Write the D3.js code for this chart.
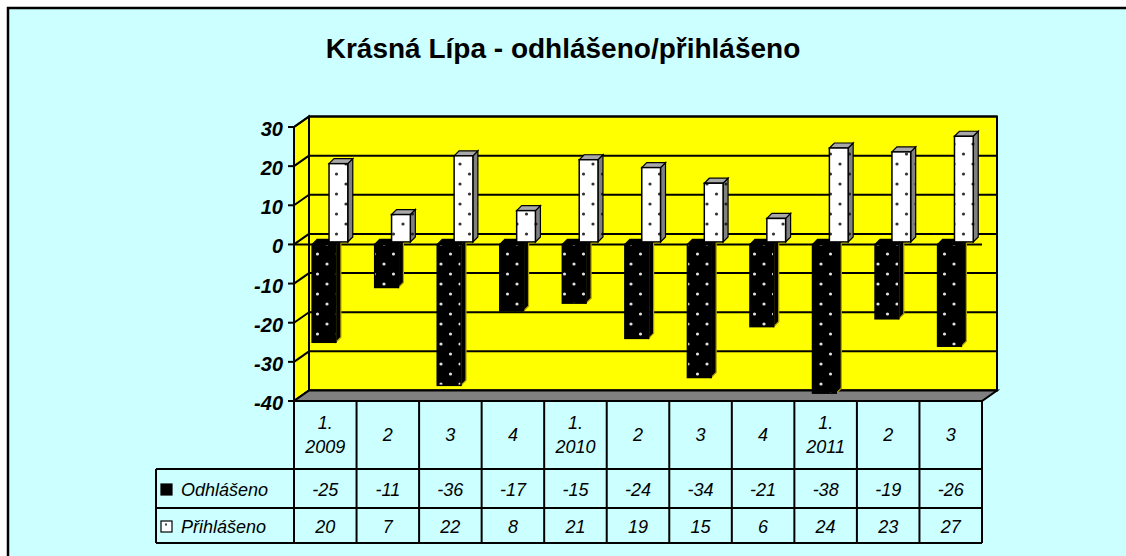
<!DOCTYPE html>
<html>
<head>
<meta charset="utf-8">
<script src="https://cdn.jsdelivr.net/npm/d3@7"></script>
<style>
  html, body { margin: 0; padding: 0; background: #fff; overflow: hidden; }
  svg { display: block; }
  text { font-family: Arial, "Liberation Sans", sans-serif; }
</style>
</head>
<body>
<svg width="1126" height="556"></svg>
<script>
// data
const categories = [["1.", "2009"], ["2"], ["3"], ["4"], ["1.", "2010"], ["2"], ["3"], ["4"], ["1.", "2011"], ["2"], ["3"]];
const odhlaseno = [-25, -11, -36, -17, -15, -24, -34, -21, -38, -19, -26];
const prihlaseno = [20, 7, 22, 8, 21, 19, 15, 6, 24, 23, 27];
const yTicks = [30, 20, 10, 0, -10, -20, -30, -40];
const seriesNames = ["Odhlášeno", "Přihlášeno"];
const title = "Krásná Lípa - odhlášeno/přihlášeno";

const svg = d3.select("svg");

// depth of the 3d box
const DX = 15, DY = -10.5;
// depth of each bar
const bdx = 5, bdy = -5;

const x = d3.scaleBand().domain(d3.range(categories.length)).range([294, 982]);
const y = d3.scaleLinear().domain([-40, 30]).range([401, 127]);

// patterns
const defs = svg.append("defs");
function dots(id, bg, fg) {
  const p = defs.append("pattern")
    .attr("id", id)
    .attr("patternUnits", "userSpaceOnUse")
    .attr("width", 19).attr("height", 20);
  p.append("rect").attr("width", 19).attr("height", 20).attr("fill", bg);
  p.append("circle").attr("cx", 4).attr("cy", 4).attr("r", 1.6).attr("fill", fg);
  p.append("circle").attr("cx", 13.5).attr("cy", 14).attr("r", 1.6).attr("fill", fg);
}
dots("dotBlack", "#000", "#e0e0e0");
dots("dotWhite", "#fff", "#333");
dots("dotGray", "#808080", "#222");

// chart area (right and bottom edges run past the picture)
svg.append("rect")
  .attr("x", 8).attr("y", 8)
  .attr("width", 1130).attr("height", 560)
  .attr("fill", "#ccffff")
  .attr("stroke", "#000").attr("stroke-width", 2.5);

svg.append("text")
  .attr("x", 563).attr("y", 58)
  .attr("text-anchor", "middle")
  .attr("font-size", 28).attr("font-weight", "bold")
  .text(title);

const x0 = x.range()[0], x1 = x.range()[1];
const yTop = y(30), yBot = y(-40);

// walls
svg.append("rect")
  .attr("x", x0 + DX).attr("y", yTop + DY)
  .attr("width", x1 - x0).attr("height", yBot - yTop)
  .attr("fill", "#ffff00").attr("stroke", "#000").attr("stroke-width", 2);

svg.append("polygon")
  .attr("points", [[x0, yTop], [x0 + DX, yTop + DY], [x0 + DX, yBot + DY], [x0, yBot]].join(" "))
  .attr("fill", "#ffff00").attr("stroke", "#000").attr("stroke-width", 2);

// gridlines
const grid = svg.append("g").attr("stroke", "#000").attr("stroke-width", 2);
yTicks.forEach(function(v) {
  grid.append("line")
    .attr("x1", x0 + DX).attr("x2", x1 + DX)
    .attr("y1", y(v) + DY).attr("y2", y(v) + DY);
  grid.append("line")
    .attr("x1", x0).attr("x2", x0 + DX)
    .attr("y1", y(v)).attr("y2", y(v) + DY);
});

// floor
svg.append("polygon")
  .attr("points", [[x0, yBot], [x0 + DX, yBot + DY], [x1 + DX, yBot + DY], [x1, yBot]].join(" "))
  .attr("fill", "#808080").attr("stroke", "#000").attr("stroke-width", 2);

// zero line at the front
svg.append("line")
  .attr("x1", x0).attr("x2", x1)
  .attr("y1", y(0)).attr("y2", y(0))
  .attr("stroke", "#000").attr("stroke-width", 2);

function bar(g, left, right, yv, y0, front, top, side, edge) {
  const ya = Math.min(yv, y0), yb = Math.max(yv, y0);
  g.append("polygon")
    .attr("points", [[right, ya], [right + bdx, ya + bdy], [right + bdx, yb + bdy], [right, yb]].join(" "))
    .attr("fill", side).attr("stroke", edge).attr("stroke-width", 1.2);
  g.append("polygon")
    .attr("points", [[left, ya], [left + bdx, ya + bdy], [right + bdx, ya + bdy], [right, ya]].join(" "))
    .attr("fill", top).attr("stroke", "#000").attr("stroke-width", 1.2);
  g.append("rect")
    .attr("x", left).attr("y", ya)
    .attr("width", right - left).attr("height", yb - ya)
    .attr("fill", front).attr("stroke", "#000").attr("stroke-width", 1.5);
}

// black series
const gBlack = svg.append("g");
odhlaseno.forEach(function(v, i) {
  const bw = x.bandwidth();
  bar(gBlack, x(i) + bw * 0.29, x(i) + bw * 0.67, y(v), y(0),
    "url(#dotBlack)", "#000", "#000", "#b0a000");
});

// white series, a little behind
const gWhite = svg.append("g");
prihlaseno.forEach(function(v, i) {
  const bw = x.bandwidth();
  bar(gWhite, x(i) + bw * 0.56, x(i) + bw * 0.86, y(v) - 2.5, y(0) - 2.5,
    "url(#dotWhite)", "#a8a8a8", "url(#dotGray)", "#000");
});

// value axis
const axis = svg.append("g");
axis.append("line")
  .attr("x1", x0).attr("x2", x0)
  .attr("y1", yTop).attr("y2", yBot)
  .attr("stroke", "#000").attr("stroke-width", 2);
yTicks.forEach(function(v) {
  axis.append("line")
    .attr("x1", x0 - 6).attr("x2", x0)
    .attr("y1", y(v)).attr("y2", y(v))
    .attr("stroke", "#000").attr("stroke-width", 2);
  axis.append("text")
    .attr("x", x0 - 11).attr("y", y(v) + 2)
    .attr("text-anchor", "end")
    .attr("dominant-baseline", "central")
    .attr("font-size", 20).attr("font-weight", "bold").attr("font-style", "italic")
    .text(v);
});

// data table
const rowY = [yBot, 469, 508, 543];
const legX = 156;
const table = svg.append("g").attr("stroke", "#000").attr("stroke-width", 2);
table.append("line").attr("x1", legX).attr("x2", x1).attr("y1", rowY[1]).attr("y2", rowY[1]);
table.append("line").attr("x1", legX).attr("x2", x1).attr("y1", rowY[2]).attr("y2", rowY[2]);
table.append("line").attr("x1", legX).attr("x2", x1).attr("y1", rowY[3]).attr("y2", rowY[3]);
table.append("line").attr("x1", legX).attr("x2", legX).attr("y1", rowY[1]).attr("y2", rowY[3]);
d3.range(categories.length + 1).forEach(function(i) {
  const xx = i < categories.length ? x(i) : x1;
  table.append("line").attr("x1", xx).attr("x2", xx).attr("y1", rowY[0]).attr("y2", rowY[3]);
});

const cellText = svg.append("g")
  .attr("font-size", 18).attr("font-style", "italic")
  .attr("text-anchor", "middle");

categories.forEach(function(lines, i) {
  const cx = x(i) + x.bandwidth() / 2;
  const cy = (rowY[0] + rowY[1]) / 2;
  lines.forEach(function(s, k) {
    cellText.append("text")
      .attr("x", cx)
      .attr("y", cy + (k - (lines.length - 1) / 2) * 24)
      .attr("dominant-baseline", "central")
      .text(s);
  });
  cellText.append("text")
    .attr("x", cx).attr("y", (rowY[1] + rowY[2]) / 2 + 1)
    .attr("dominant-baseline", "central")
    .text(odhlaseno[i]);
  cellText.append("text")
    .attr("x", cx).attr("y", (rowY[2] + rowY[3]) / 2 + 1)
    .attr("dominant-baseline", "central")
    .text(prihlaseno[i]);
});

// legend keys in the table
seriesNames.forEach(function(name, k) {
  const cy = (rowY[k + 1] + rowY[k + 2]) / 2 + 1;
  svg.append("rect")
    .attr("x", 161).attr("y", cy - 5.5)
    .attr("width", 11).attr("height", 11)
    .attr("fill", k === 0 ? "#000" : "#fff")
    .attr("stroke", "#000").attr("stroke-width", 1.2);
  if (k === 1) {
    svg.append("rect")
      .attr("x", 165).attr("y", cy - 3)
      .attr("width", 2).attr("height", 2)
      .attr("fill", "#444");
  }
  svg.append("text")
    .attr("x", 181).attr("y", cy)
    .attr("dominant-baseline", "central")
    .attr("font-size", 18).attr("font-style", "italic")
    .text(name);
});
</script>
</body>
</html>
